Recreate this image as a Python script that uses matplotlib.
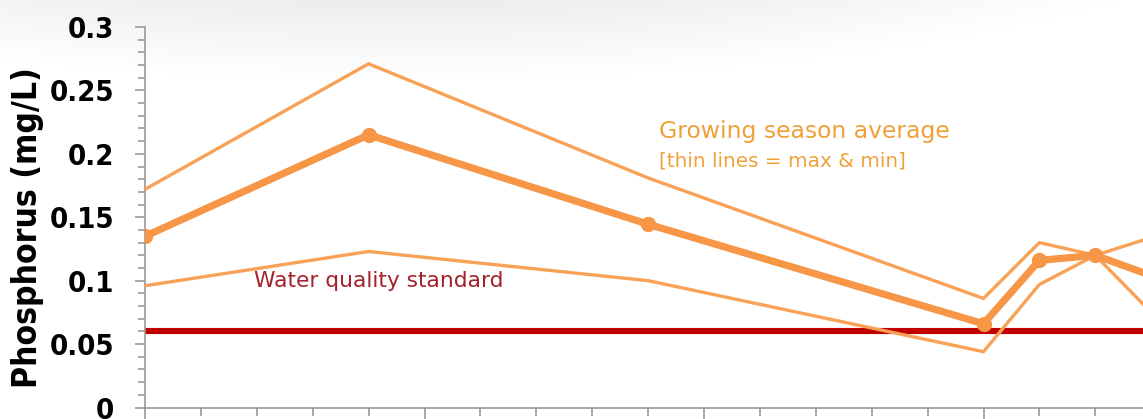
import numpy as np
import matplotlib
matplotlib.use("Agg")
import matplotlib.pyplot as plt
from matplotlib.ticker import MultipleLocator
from matplotlib import font_manager

# --- data -------------------------------------------------------------
years = [2000, 2004, 2009, 2015, 2016, 2017, 2018]
p_mean = [0.135, 0.215, 0.1445, 0.066, 0.116, 0.120, 0.104]
p_max = [0.172, 0.271, 0.181, 0.086, 0.130, 0.120, 0.134]
p_min = [0.096, 0.123, 0.100, 0.044, 0.097, 0.120, 0.075]
standard = 0.06
y_ticks = [0, 0.05, 0.1, 0.15, 0.2, 0.25, 0.3]
y_tick_labels = ["0", "0.05", "0.1", "0.15", "0.2", "0.25", "0.3"]

# pick a condensed face for the axis text if one is installed
narrow_family, narrow_stretch = "Liberation Sans", "normal"
for f in font_manager.fontManager.ttflist:
    st = str(f.stretch).lower()
    if ("condensed" in st or "narrow" in f.name.lower()
            or "condensed" in f.name.lower()):
        narrow_family, narrow_stretch = f.name, f.stretch
        break

W, H = 1143, 419
fig = plt.figure(figsize=(W / 100, H / 100), dpi=100)

# soft grey shading along the top of the slide
bg = fig.add_axes([0, 0, 1, 1], zorder=-5)
xx, yy = np.meshgrid(np.arange(W), np.arange(H))
d = np.sqrt(((xx - 400) / 950.0) ** 2 + ((yy + 150) / 230.0) ** 2)
shade = np.clip((1 - d) / 0.35, 0, 1)
g = 1 - 0.07 * shade
bg.imshow(np.dstack([g, g, g]), extent=[0, 1, 0, 1], aspect="auto",
          origin="upper")
bg.set_axis_off()

# main axes; it runs past the right edge of the figure
x0, x_end = 2000, 2020
px_per_year = 55.9
left = 145 / W
width = (x_end - x0) * px_per_year / W
bottom = (H - 407.5) / H
top = (H - 27) / H
ax = fig.add_axes([left, bottom, width, top - bottom])
ax.set_facecolor("none")

orange = "#F79646"
thin = "#F9A257"
ax.plot(years, p_max, color=thin, lw=2.4, zorder=3)
ax.plot(years, p_min, color=thin, lw=2.4, zorder=3)
ax.plot(years, p_mean, color=orange, lw=5.2, marker="o", ms=10,
        solid_joinstyle="round", zorder=4)
ax.axhline(standard, color="#C00000", lw=4.4, zorder=2)

ax.set_xlim(x0, x_end)
ax.set_ylim(0, 0.3)

for s in ("top", "right"):
    ax.spines[s].set_visible(False)
for s in ("left", "bottom"):
    ax.spines[s].set_color("#9a9a9a")
    ax.spines[s].set_linewidth(1.2)

ax.xaxis.set_major_locator(MultipleLocator(5))
ax.xaxis.set_minor_locator(MultipleLocator(1))
ax.tick_params(axis="x", which="major", length=8, width=1.2, color="#9a9a9a",
               labelbottom=False)
ax.tick_params(axis="x", which="minor", length=5.5, width=1.2, color="#9a9a9a")

ax.set_yticks(y_ticks)
ax.set_yticklabels(y_tick_labels)
ax.yaxis.set_minor_locator(MultipleLocator(0.01))
ax.tick_params(axis="y", which="major", length=7, width=1.2, color="#9a9a9a",
               pad=15, labelsize=21)
ax.tick_params(axis="y", which="minor", length=5, width=1.2, color="#9a9a9a")
for lab in ax.get_yticklabels():
    lab.set_fontfamily(narrow_family)
    lab.set_fontstretch(narrow_stretch)
    lab.set_fontweight("bold")

ylab = fig.text(28 / W, 1 - 228 / H, "Phosphorus (mg/L)", rotation=90,
                ha="center", va="center", fontsize=22, family=narrow_family,
                fontstretch=narrow_stretch, fontweight="bold")

t1 = ax.text(2009.2, 0.218, "Growing season average", color="#F0A039",
             fontsize=16, family="DejaVu Sans", ha="left", va="center")
t2 = ax.text(2009.2, 0.1945, "[thin lines = max & min]", color="#F0A039",
             fontsize=13, family="DejaVu Sans", ha="left", va="center")
t3 = ax.text(2001.95, 0.0995, "Water quality standard", color="#A3222B",
             fontsize=13.5, family="DejaVu Sans", ha="left", va="center")

# size the annotations to their laid-out pixel widths
fig.canvas.draw()
renderer = fig.canvas.get_renderer()
for t, target in ((t1, 290), (t2, 246), (t3, 249), (ylab, 321)):
    for _ in range(3):
        bb = t.get_window_extent(renderer)
        span = bb.height if t is ylab else bb.width
        t.set_fontsize(t.get_fontsize() * target / span)

fig.savefig("out.png", dpi=100)
